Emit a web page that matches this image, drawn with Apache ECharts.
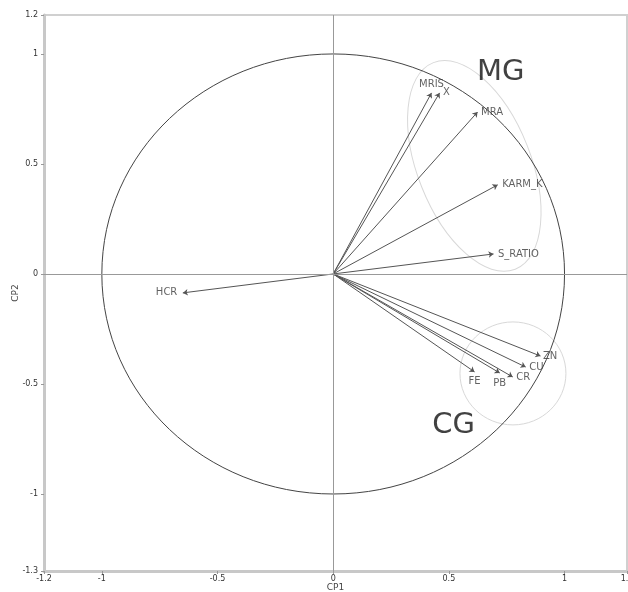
<!DOCTYPE html>
<html>
<head>
<meta charset="utf-8">
<script src="https://cdn.jsdelivr.net/npm/echarts@6/dist/echarts.min.js"></script>
<style>html,body{margin:0;padding:0;background:#fff}#c{width:628px;height:592px}</style>
</head>
<body>
<div id="c"></div>
<script>
// ---- data ----
const variables = ['MRIS', 'X', 'MRA', 'KARM_K', 'S_RATIO', 'HCR', 'ZN', 'CU', 'CR', 'PB', 'FE'];
const cp1 = [0.425, 0.460, 0.624, 0.711, 0.693, -0.650, 0.896, 0.832, 0.776, 0.720, 0.611];
const cp2 = [0.823, 0.823, 0.736, 0.405, 0.091, -0.086, -0.373, -0.423, -0.468, -0.450, -0.445];

const xTickValues = [-1.25, -1, -0.5, 0, 0.5, 1, 1.27];
const xTickLabels = ['-1.2', '-1', '-0.5', '0', '0.5', '1', '1.3'];
const yTickValues = [1.177, 1, 0.5, 0, -0.5, -1, -1.35];
const yTickLabels = ['1.2', '1', '0.5', '0', '-0.5', '-1', '-1.3'];

// correlation circle and group outlines: [centerX, centerY, radiusX, radiusY]
const unitCircle = [0, 0, 1, 1];
const groupNames = ['MG', 'CG'];
const groupOutlines = [[0.610, 0.491, 0.245, 0.505], [0.777, -0.452, 0.229, 0.234]];
const groupLabelX = [0.724, 0.52];
const groupLabelY = [0.918, -0.69];

// ---- styles ----
const labelPositions = {
  MRIS: ['top', 3], X: ['right', 3], MRA: ['right', 3], KARM_K: ['right', 4],
  S_RATIO: ['right', 4], HCR: ['left', 5], ZN: ['right', 2], CU: ['right', 3],
  CR: ['right', 3], PB: ['bottom', 5], FE: ['bottom', 4]
};
const groupRotation = [0.377, 0];
const FONT = 'DejaVu Sans';

function fmt(values, labels) {
  return function (v) {
    for (let i = 0; i < values.length; i++) if (Math.abs(values[i] - v) < 1e-6) return labels[i];
    return '';
  };
}

const chart = echarts.init(document.getElementById('c'), null, { renderer: 'canvas' });

const arrowData = variables.map((n, i) => ({ name: n, coords: [[0, 0], [cp1[i], cp2[i]]] }));
const labelData = variables.map((n, i) => ({
  name: n, value: [cp1[i], cp2[i]],
  label: { position: labelPositions[n][0], distance: labelPositions[n][1] }
}));

function ellipseItem(rotations) {
  return function (params, api) {
    const c = api.coord([api.value(0), api.value(1)]);
    const s = api.size([api.value(2), api.value(3)]);
    return {
      type: 'ellipse',
      x: c[0], y: c[1],
      rotation: rotations ? rotations[params.dataIndex] : 0,
      shape: { cx: 0, cy: 0, rx: s[0], ry: s[1] },
      style: api.style({ fill: 'none' })
    };
  };
}

chart.setOption({
  animation: false,
  backgroundColor: '#fff',
  grid: { left: 44, right: 1, top: 15, bottom: 21, show: true, borderColor: '#d0d0d0', borderWidth: 2, containLabel: false, outerBoundsMode: 'none' },
  xAxis: {
    type: 'value', min: -1.25, max: 1.27,
    name: 'CP1', nameLocation: 'middle', nameGap: 12, nameMoveOverlap: false,
    nameTextStyle: { fontFamily: FONT, fontSize: 9, color: '#444' },
    axisLine: { show: true, onZero: false, lineStyle: { color: '#c8c8c8', width: 3 } },
    axisTick: { show: true, length: 3, customValues: xTickValues, lineStyle: { color: '#999' } },
    axisLabel: { customValues: xTickValues, formatter: fmt(xTickValues, xTickLabels), fontFamily: FONT, fontSize: 8, color: '#333', margin: 4, showMinLabel: true, showMaxLabel: true },
    splitLine: { show: false }
  },
  yAxis: {
    type: 'value', min: -1.35, max: 1.177,
    name: 'CP2', nameLocation: 'middle', nameGap: 24, nameRotate: 90, nameMoveOverlap: false,
    nameTextStyle: { fontFamily: FONT, fontSize: 9, color: '#444' },
    axisLine: { show: true, onZero: false, lineStyle: { color: '#c8c8c8', width: 3 } },
    axisTick: { show: true, length: 3, customValues: yTickValues, lineStyle: { color: '#999' } },
    axisLabel: { customValues: yTickValues, formatter: fmt(yTickValues, yTickLabels), fontFamily: FONT, fontSize: 8, color: '#333', margin: 6, showMinLabel: true, showMaxLabel: true },
    splitLine: { show: false }
  },
  series: [
    {
      type: 'custom', name: 'circle', renderItem: ellipseItem(null),
      data: [unitCircle], itemStyle: { color: 'none', borderColor: '#444', borderWidth: 1 },
      silent: true, z: 2
    },
    {
      type: 'custom', name: 'groups', renderItem: ellipseItem(groupRotation),
      data: groupOutlines, itemStyle: { color: 'none', borderColor: '#d8d8d8', borderWidth: 1 },
      silent: true, z: 1
    },
    {
      type: 'lines', coordinateSystem: 'cartesian2d', data: arrowData,
      symbol: ['none', 'arrow'], symbolSize: 5,
      lineStyle: { color: '#555', width: 1, opacity: 1 }, z: 3, silent: true
    },
    {
      type: 'scatter', data: labelData, symbolSize: 1, itemStyle: { color: 'transparent' },
      label: { show: true, formatter: '{b}', fontFamily: FONT, fontSize: 10, color: '#3a3a3a' },
      markLine: {
        silent: true, symbol: ['none', 'none'], label: { show: false },
        lineStyle: { color: '#999', type: 'solid', width: 1 },
        data: [{ xAxis: 0 }, { yAxis: 0 }]
      },
      z: 4
    },
    {
      type: 'scatter', data: groupNames.map((n, i) => ({ name: n, value: [groupLabelX[i], groupLabelY[i]] })),
      symbolSize: 1, itemStyle: { color: 'transparent' },
      label: { show: true, position: 'inside', formatter: '{b}', fontFamily: FONT, fontSize: 29, color: '#111' },
      z: 5
    }
  ]
});
</script>
</body>
</html>
